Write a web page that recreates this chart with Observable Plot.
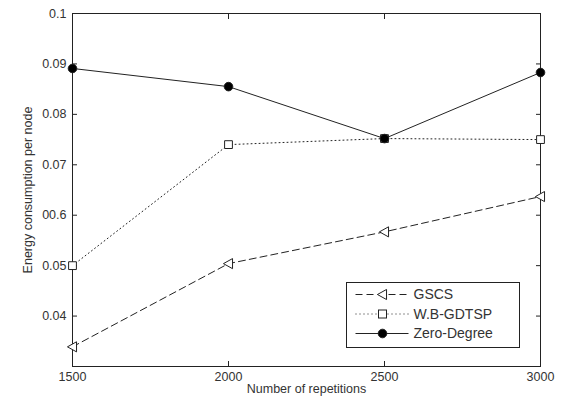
<!DOCTYPE html>
<html>
<head>
<meta charset="utf-8">
<script src="https://cdn.jsdelivr.net/npm/d3@7"></script>
<script src="https://cdn.jsdelivr.net/npm/@observablehq/plot@0.6"></script>
<style>
  html, body { margin: 0; padding: 0; background: #fff; }
  #wrap { position: relative; width: 562px; height: 404px; font-family: "Liberation Sans", Arial, sans-serif; }
  #legend { position: absolute; left: 0; top: 0; pointer-events: none; }
</style>
</head>
<body>
<div id="wrap"></div>
<script>
// ---- data ----
const repetitions = [1500, 2000, 2500, 3000];
const gscs = [0.0339, 0.0504, 0.0567, 0.0637];
const wbgdtsp = [0.0500, 0.0740, 0.0752, 0.0750];
const zeroDegree = [0.0891, 0.0855, 0.0752, 0.0883];
const seriesNames = ["GSCS", "W.B-GDTSP", "Zero-Degree"];
const yTicks = [0.04, 0.05, 0.06, 0.07, 0.08, 0.09, 0.1];
const yTickLabels = ["0.04", "0.05", "00.6", "0.07", "0.08", "0.09", "0.1"];
const xTicks = [1500, 2000, 2500, 3000];
const xTickLabels = ["1500", "2000", "2500", "3000"];

// ---- styles ----
const ink = "#222";
const styles = {
  "GSCS": {dash: "7,4", symbol: "triL", fill: "none"},
  "W.B-GDTSP": {dash: "1,3", symbol: "square", fill: "none"},
  "Zero-Degree": {dash: null, symbol: "circle", fill: ink}
};

const triL = {
  draw(ctx, size) {
    const s = Math.sqrt(size) * 0.62;
    ctx.moveTo(-s, 0);
    ctx.lineTo(s * 0.8, -s);
    ctx.lineTo(s * 0.8, s);
    ctx.closePath();
  }
};

const valuesBySeries = [gscs, wbgdtsp, zeroDegree];
const rows = [];
seriesNames.forEach((name, i) => {
  repetitions.forEach((r, j) => rows.push({series: name, x: r, y: valuesBySeries[i][j]}));
});

const yLabelMap = new Map(yTicks.map((t, i) => [t, yTickLabels[i]]));
const xLabelMap = new Map(xTicks.map((t, i) => [t, xTickLabels[i]]));

const fontSize = 12.5;

const plot = Plot.plot({
  width: 562,
  height: 404,
  marginLeft: 72,
  marginRight: 22,
  marginTop: 13,
  marginBottom: 38,
  style: {fontFamily: "Liberation Sans, Arial, sans-serif", fontSize: fontSize + "px", color: "#333", background: "#fff"},
  x: {domain: [1500, 3000]},
  y: {domain: [0.03, 0.1]},
  marks: [
    Plot.frame({stroke: ink, strokeWidth: 1}),
    Plot.axisY(yTicks, {anchor: "left", tickSize: -5, tickPadding: 11, tickFormat: d => yLabelMap.get(d), label: null, stroke: ink, fill: "#333"}),
    Plot.axisY(yTicks, {anchor: "right", tickSize: -5, tickFormat: () => "", label: null, stroke: ink}),
    Plot.axisX(xTicks, {anchor: "bottom", tickSize: -5, tickPadding: 11, tickFormat: d => xLabelMap.get(d), label: null, stroke: ink, fill: "#333"}),
    Plot.axisX(xTicks, {anchor: "top", tickSize: -5, tickFormat: () => "", label: null, stroke: ink}),
    ...seriesNames.map(name => Plot.line(rows.filter(d => d.series === name), {
      x: "x", y: "y", stroke: ink, strokeWidth: 1, strokeDasharray: styles[name].dash
    })),
    Plot.dot(rows.filter(d => d.series === "GSCS"), {x: "x", y: "y", symbol: () => triL, r: 4.6, stroke: ink, fill: "white", strokeWidth: 1}),
    Plot.dot(rows.filter(d => d.series === "W.B-GDTSP"), {x: "x", y: "y", symbol: "square", r: 4.4, stroke: ink, fill: "white", strokeWidth: 1}),
    Plot.dot(rows.filter(d => d.series === "Zero-Degree"), {x: "x", y: "y", symbol: "circle", r: 4.3, stroke: ink, fill: "black", strokeWidth: 1}),
    Plot.text(["Number of repetitions"], {frameAnchor: "bottom", lineAnchor: "middle", dy: 22, text: d => d, fill: "#333", fontSize: fontSize}),
    Plot.text(["Energy consumption per node"], {frameAnchor: "left", textAnchor: "middle", lineAnchor: "middle", dx: -45, rotate: -90, text: d => d, fill: "#333", fontSize: fontSize})
  ]
});

const wrap = document.getElementById("wrap");
wrap.appendChild(plot);

// ---- legend overlay ----
const lg = d3.select(wrap).append("svg")
  .attr("id", "legend").attr("width", 562).attr("height", 404)
  .style("font-family", "Liberation Sans, Arial, sans-serif");
const box = {x: 346.5, y: 282.5, w: 173, h: 65};
lg.append("rect").attr("x", box.x).attr("y", box.y).attr("width", box.w).attr("height", box.h)
  .attr("fill", "white").attr("stroke", ink).attr("stroke-width", 1);
seriesNames.forEach((name, i) => {
  const cy = box.y + 12 + i * 19.5;
  const st = styles[name];
  lg.append("line").attr("x1", box.x + 9).attr("x2", box.x + 62).attr("y1", cy).attr("y2", cy)
    .attr("stroke", ink).attr("stroke-width", 1).attr("stroke-dasharray", st.dash);
  const cx = box.x + 36;
  if (st.symbol === "triL") {
    lg.append("path").attr("transform", `translate(${cx},${cy})`).attr("d", d3.symbol(triL, 4.6 * 4.6 * Math.PI)())
      .attr("fill", "white").attr("stroke", ink);
  } else if (st.symbol === "square") {
    lg.append("rect").attr("x", cx - 4).attr("y", cy - 4).attr("width", 8).attr("height", 8)
      .attr("fill", "white").attr("stroke", ink);
  } else {
    lg.append("circle").attr("cx", cx).attr("cy", cy).attr("r", 4.3).attr("fill", "black").attr("stroke", ink);
  }
  lg.append("text").attr("x", box.x + 67).attr("y", cy).attr("dy", "0.35em")
    .attr("font-size", fontSize + 1.5).attr("fill", "#333").text(name);
});
</script>
</body>
</html>
